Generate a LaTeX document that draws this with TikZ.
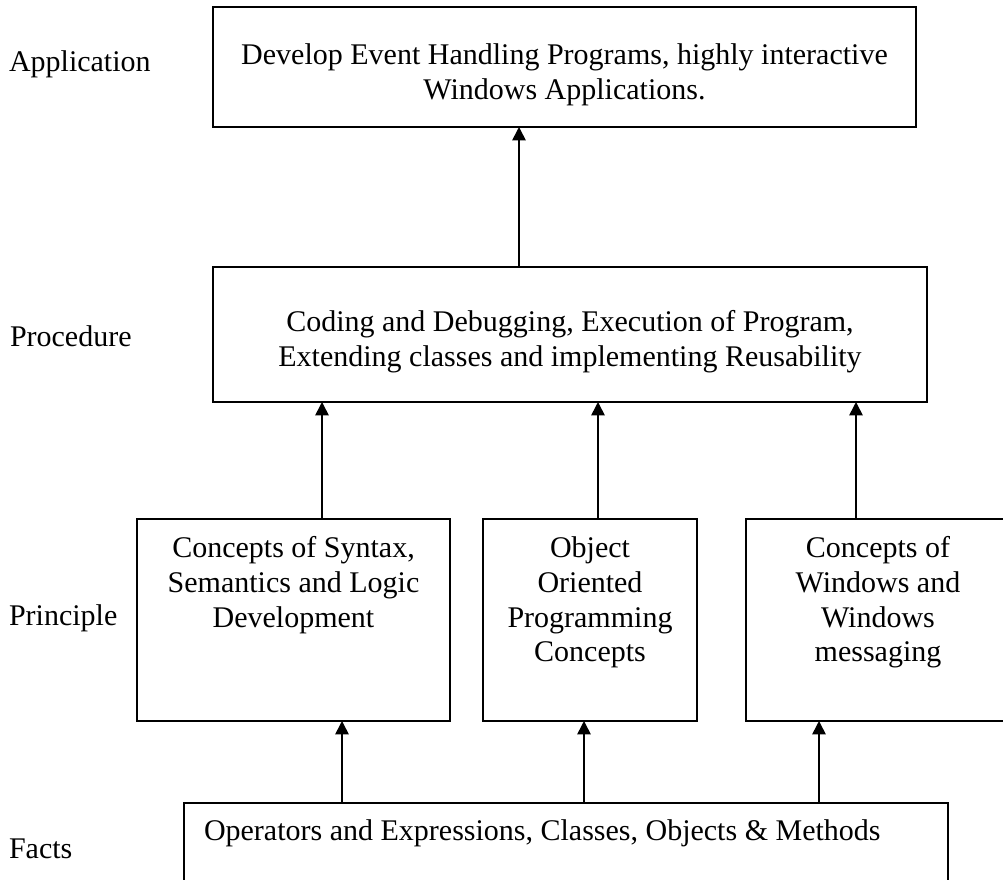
\documentclass[tikz,border=0pt]{standalone}
\usepackage{fontspec}
\setmainfont{Liberation Serif}
\usetikzlibrary{arrows.meta}
\tikzset{
  box/.style={draw, line width=1.2pt, inner sep=0pt, outer sep=0pt, anchor=north west},
  arr/.style={-{Triangle[length=10pt,width=10pt]}, line width=1.2pt},
  txt/.style={inner sep=0pt, outer sep=0pt, anchor=base, font=\fontsize{22.5}{25.5}\selectfont},
  lbl/.style={inner sep=0pt, outer sep=0pt, anchor=base west, font=\fontsize{22.5}{25.5}\selectfont}
}
\begin{document}
\begin{tikzpicture}[x=0.75pt,y=-0.75pt]
\useasboundingbox (0,0) rectangle (1003,880);
\clip (0,0) rectangle (1003,880);
% boxes
\node[box, minimum width=0.75*703pt, minimum height=0.75*120pt] (app) at (213,7) {};
\node[box, minimum width=0.75*714pt, minimum height=0.75*135pt] (proc) at (213,267) {};
\node[box, minimum width=0.75*313pt, minimum height=0.75*202pt] (p1) at (137,519) {};
\node[box, minimum width=0.75*214pt, minimum height=0.75*202pt] (p2) at (483,519) {};
\node[box, minimum width=0.75*264pt, minimum height=0.75*202pt] (p3) at (746,519) {};
\node[box, minimum width=0.75*764pt, minimum height=0.75*100pt] (facts) at (184,803) {};
% box texts
\node[txt] (a1) at (564.5,65) {Develop Event Handling Programs, highly interactive};
\node[txt] (a2) at (564.5,100) {Windows Applications.};
\node[txt] (r1) at (570,332) {Coding and Debugging, Execution of Program,};
\node[txt] (r2) at (570,367) {Extending classes and implementing Reusability};
\node[txt] (s1) at (293.5,557) {Concepts of Syntax,};
\node[txt] (s2) at (293.5,592) {Semantics and Logic};
\node[txt] (s3) at (293.5,627) {Development};
\node[txt] (o1) at (590,557) {Object};
\node[txt] (o2) at (590,592) {Oriented};
\node[txt] (o3) at (590,627) {Programming};
\node[txt] (o4) at (590,661) {Concepts};
\node[txt] (w1) at (878,557) {Concepts of};
\node[txt] (w2) at (878,592) {Windows and};
\node[txt] (w3) at (878,627) {Windows};
\node[txt] (w4) at (878,661) {messaging};
\node[lbl] (f1) at (204,840) {Operators and Expressions, Classes, Objects \& Methods};
% side labels
\node[lbl] (lapp) at (9,72) {Application};
\node[lbl] (lproc) at (10,347) {Procedure};
\node[lbl] (lprin) at (9,625) {Principle};
\node[lbl] (lfact) at (9,858) {Facts};
% arrow columns
\coordinate (c0) at (519,0);
\coordinate (c1) at (322,0);
\coordinate (c2) at (598,0);
\coordinate (c3) at (856,0);
\coordinate (d1) at (342,0);
\coordinate (d2) at (584,0);
\coordinate (d3) at (819,0);
% arrows
\draw[arr] (c0 |- proc.north) -- (c0 |- app.south);
\draw[arr] (c1 |- p1.north) -- (c1 |- proc.south);
\draw[arr] (c2 |- p2.north) -- (c2 |- proc.south);
\draw[arr] (c3 |- p3.north) -- (c3 |- proc.south);
\draw[arr] (d1 |- facts.north) -- (d1 |- p1.south);
\draw[arr] (d2 |- facts.north) -- (d2 |- p2.south);
\draw[arr] (d3 |- facts.north) -- (d3 |- p3.south);
\end{tikzpicture}
\end{document}
